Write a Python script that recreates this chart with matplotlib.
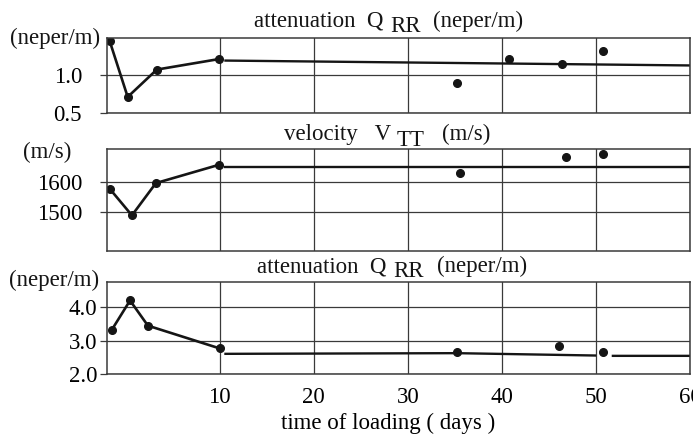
import numpy as np
import matplotlib
matplotlib.use("Agg")
from matplotlib import pyplot as plt

plt.rcParams['font.family'] = ['Liberation Serif', 'DejaVu Serif']

# --- data (days / values) ---
# top: attenuation Q_RR (neper/m)
top_early_x = [-1.7, 0.2, 3.3, 9.9]
top_early_y = [1.45, 0.71, 1.075, 1.215]
top_late_x = [35.2, 40.7, 46.4, 50.8]
top_late_y = [0.90, 1.22, 1.15, 1.32]
top_fit_x = [10.6, 60.0]
top_fit_y = [1.195, 1.13]

# middle: velocity V_TT (m/s)
mid_early_x = [-1.7, 0.65, 3.2, 9.9]
mid_early_y = [1576, 1489, 1595, 1655]
mid_late_x = [35.5, 46.8, 50.8]
mid_late_y = [1629, 1681, 1692]
mid_fit_x = [10.6, 60.0]
mid_fit_y = [1647, 1647]

# bottom: attenuation Q_RR (neper/m)
bot_early_x = [-1.5, 0.45, 2.35, 10.0]
bot_early_y = [3.32, 4.20, 3.45, 2.77]
bot_late_x = [35.2, 46.1, 50.7]
bot_late_y = [2.66, 2.83, 2.66]
bot_fit_x = [10.6, 35.2, 49.9, np.nan, 51.8, 60.0]
bot_fit_y = [2.61, 2.63, 2.56, np.nan, 2.55, 2.55]

x_ticks = [10, 20, 30, 40, 50, 60]

W, H = 693, 436
fig = plt.figure(figsize=(W / 100, H / 100), dpi=100)


def px_axes(left, top, right, bottom):
    return fig.add_axes([left / W, 1 - bottom / H, (right - left) / W, (bottom - top) / H])


ink = '#151515'
grid_c = '#3a3a3a'
fs = 16.5

panels = [
    dict(box=(107, 37.7, 690, 112.7), ylim=(0.5, 1.5), yticks=[0.5, 1.0], ylabels=['0.5', '1.0'],
         ex=top_early_x, ey=top_early_y, lx=top_late_x, ly=top_late_y, fx=top_fit_x, fy=top_fit_y, pad=13),
    dict(box=(107, 149.3, 690, 251), ylim=(1372, 1706), yticks=[1500, 1600], ylabels=['1500', '1600'],
         ex=mid_early_x, ey=mid_early_y, lx=mid_late_x, ly=mid_late_y, fx=mid_fit_x, fy=mid_fit_y, pad=13),
    dict(box=(107, 281.7, 690, 374.3), ylim=(2.0, 4.76), yticks=[2.0, 3.0, 4.0], ylabels=['2.0', '3.0', '4.0'],
         ex=bot_early_x, ey=bot_early_y, lx=bot_late_x, ly=bot_late_y, fx=bot_fit_x, fy=bot_fit_y, pad=2),
]

axes = []
for p in panels:
    ax = px_axes(*p['box'])
    ax.plot(p['ex'], p['ey'], '-o', color=ink, lw=1.9, ms=5.5)
    ax.plot(p['fx'], p['fy'], '-', color=ink, lw=1.7)
    ax.plot(p['lx'], p['ly'], 'o', color=ink, ms=5.5)
    ax.set_xlim(-2, 60)
    ax.set_ylim(*p['ylim'])
    ax.set_xticks(x_ticks)
    ax.set_yticks(p['yticks'])
    ax.set_yticklabels(p['ylabels'])
    ax.grid(True, color=grid_c, lw=0.9)
    ax.set_axisbelow(True)
    for s in ax.spines.values():
        s.set_color(grid_c)
        s.set_linewidth(1.1)
    ax.tick_params(axis='y', direction='out', length=5, width=0.9, color=grid_c,
                   labelsize=fs, pad=p['pad'])
    ax.tick_params(axis='x', length=0, labelsize=fs, pad=9)
    axes.append(ax)

for ax in axes[:2]:
    ax.tick_params(axis='x', labelbottom=False)

axes[2].set_xlabel('time of loading ( days )', fontsize=fs, va='center')
axes[2].xaxis.set_label_coords((388 - 107) / 583, -(423 - 374.3) / 92.6)


def ftext(x, y, s, **kw):
    fig.text(x / W, 1 - y / H, s, fontsize=fs, color=ink, **kw)


# panel titles with lowered subscripts
ftext(383, 27, 'attenuation  Q', ha='right', va='baseline')
ftext(390, 32, 'RR', ha='left', va='baseline')
ftext(433, 27, '(neper/m)', ha='left', va='baseline')

ftext(391, 140, 'velocity   V', ha='right', va='baseline')
ftext(397, 146, 'TT', ha='left', va='baseline')
ftext(442, 140, '(m/s)', ha='left', va='baseline')

ftext(386, 272, 'attenuation  Q', ha='right', va='baseline')
ftext(393, 277, 'RR', ha='left', va='baseline')
ftext(437, 272, '(neper/m)', ha='left', va='baseline')

# unit labels at upper left
ftext(100, 38, '(neper/m)', ha='right', va='center')
ftext(71, 152, '(m/s)', ha='right', va='center')
ftext(99, 280, '(neper/m)', ha='right', va='center')

fig.savefig('out.png', dpi=100)
